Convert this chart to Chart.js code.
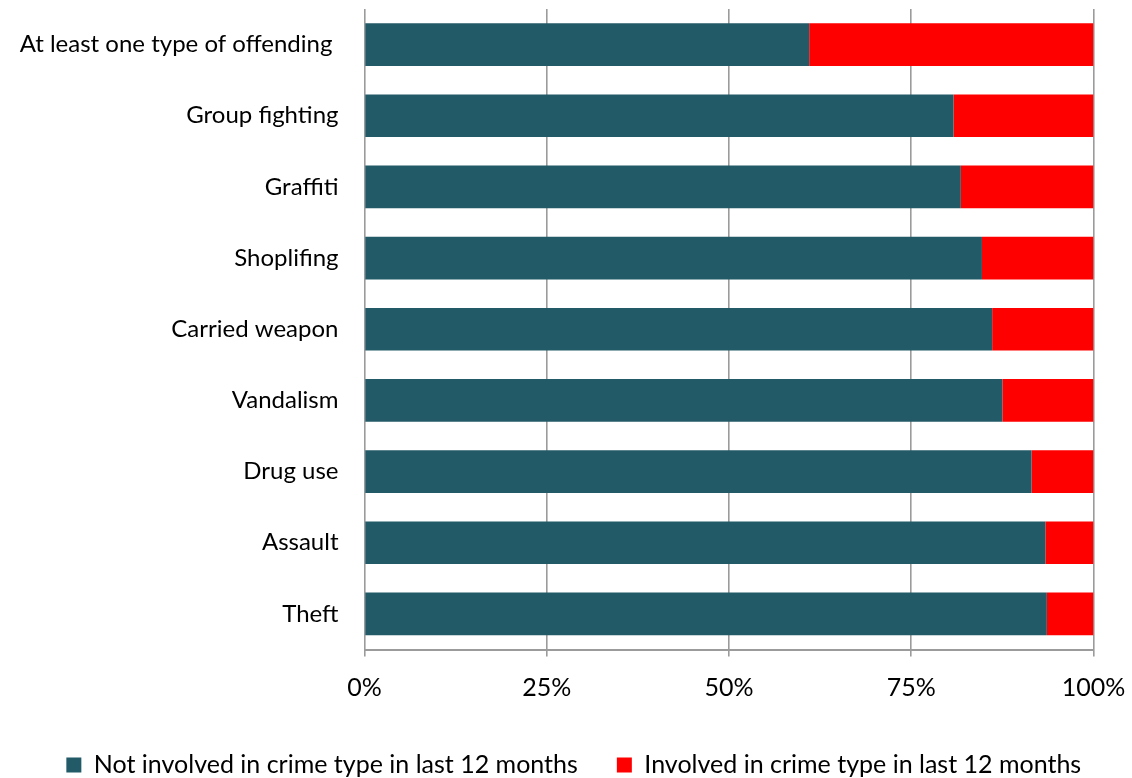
<!DOCTYPE html>
<html>
<head>
<meta charset="utf-8">
<script src="https://cdn.jsdelivr.net/npm/chart.js@4/dist/chart.umd.min.js"></script>
<style>
  html, body { margin: 0; padding: 0; background: #fff; }
  #wrap { width: 1132px; height: 778px; position: relative; }
</style>
</head>
<body>
<div id="wrap"><canvas id="crimeChart"></canvas></div>
<script>
// --- data ---
const categories = [
    'At least one type of offending ',
    'Group fighting',
    'Graffiti',
    'Shoplifing',
    'Carried weapon',
    'Vandalism',
    'Drug use',
    'Assault',
    'Theft'
];
const notInvolved = [61.0, 80.8, 81.8, 84.7, 86.1, 87.5, 91.5, 93.4, 93.6];
const involved = [39.0, 19.2, 18.2, 15.3, 13.9, 12.5, 8.5, 6.6, 6.4];
const seriesNames = ['Not involved in crime type in last 12 months', 'Involved in crime type in last 12 months'];
const xTicks = [0, 25, 50, 75, 100];

const fontFamily = 'Lato, "Open Sans", sans-serif';
const gridGrey = '#9b9b9b';

// nudge the legend row a little to the right of the default centring
const legendShift = {
    id: 'legendShift',
    afterLayout(chart) {
        if (chart.legend) {
            chart.legend.left += 27;
            chart.legend.right += 27;
        }
    }
};

const ctx = document.getElementById('crimeChart').getContext('2d');

new Chart(ctx, {
    type: 'bar',
    data: {
        labels: categories,
        datasets: [{
            label: seriesNames[0],
            data: notInvolved,
            backgroundColor: '#235a68',
            borderWidth: 0,
            barPercentage: 0.6,
            categoryPercentage: 1
        }, {
            label: seriesNames[1],
            data: involved,
            backgroundColor: '#ff0000',
            borderWidth: 0,
            barPercentage: 0.6,
            categoryPercentage: 1
        }]
    },
    options: {
        indexAxis: 'y',
        responsive: true,
        maintainAspectRatio: false,
        animation: false,
        // negative bottom padding pulls the legend row down near the edge
        layout: { padding: { top: 9, right: 38.5, left: 0, bottom: -9.5 } },
        scales: {
            x: {
                stacked: true,
                min: 0,
                max: 100,
                afterBuildTicks: (scale) => {
                    scale.ticks = xTicks.map(v => ({ value: v }));
                },
                afterFit: (scale) => {
                    scale.height = 64;
                    scale.paddingLeft = 0;
                    scale.paddingRight = 0;
                },
                ticks: {
                    color: '#000',
                    font: { family: fontFamily, size: 25 },
                    padding: 16,
                    maxRotation: 0,
                    callback: (v) => v + '%'
                },
                grid: {
                    color: gridGrey,
                    lineWidth: 1.6,
                    tickLength: 7
                },
                border: { color: gridGrey, width: 2 }
            },
            y: {
                stacked: true,
                afterFit: (scale) => {
                    scale.width = 364.5;
                    scale.paddingTop = 0;
                    scale.paddingBottom = 0;
                },
                ticks: {
                    color: '#000',
                    font: { family: fontFamily, size: 24 },
                    padding: 26
                },
                grid: { display: false, drawTicks: false, tickLength: 0 },
                border: { display: false }
            }
        },
        plugins: {
            legend: {
                position: 'bottom',
                labels: {
                    color: '#000',
                    font: { family: fontFamily, size: 25 },
                    boxWidth: 15,
                    boxHeight: 15,
                    padding: 39
                }
            },
            tooltip: { enabled: false }
        }
    },
    plugins: [legendShift]
});
</script>
</body>
</html>
